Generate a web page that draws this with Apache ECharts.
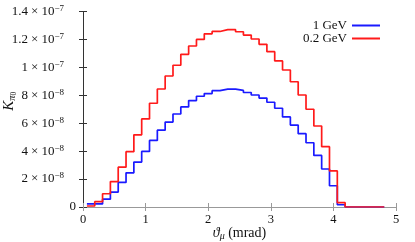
<!DOCTYPE html>
<html>
<head>
<meta charset="utf-8">
<script src="https://cdn.jsdelivr.net/npm/echarts@6/dist/echarts.min.js"></script>
<style>
html,body{margin:0;padding:0;background:#fff;}
#c{width:415px;height:242px;}
</style>
</head>
<body>
<div id="c"></div>
<script>
// Bin centres of theta_mu (mrad), bin width 0.125 mrad
const binCenters = [0.125,0.25,0.375,0.5,0.625,0.75,0.875,1.0,1.125,1.25,1.375,1.5,1.625,1.75,1.875,2.0,2.125,2.25,2.375,2.5,2.625,2.75,2.875,3.0,3.125,3.25,3.375,3.5,3.625,3.75,3.875,4.0,4.125,4.25,4.375,4.5,4.625,4.75];
// K_pi0 values in units of 1e-8
const k1GeV = [0.22,0.22,0.56,1.07,1.76,2.45,3.22,3.98,4.77,5.5,6.08,6.66,7.17,7.62,7.93,8.12,8.33,8.44,8.44,8.35,8.2,8.02,7.8,7.5,7.07,6.45,5.87,5.25,4.6,3.69,2.72,1.52,0.16,0,0,0,0,0];
const k02GeV = [0.07,0.38,0.95,1.82,2.85,3.96,5.17,6.31,7.43,8.45,9.38,10.15,10.93,11.53,12.0,12.4,12.57,12.7,12.7,12.55,12.31,12.03,11.65,11.12,10.46,9.81,8.97,8.02,7.0,5.8,4.32,2.58,0.31,0,0,0,0,0];
const seriesNames = ['1 GeV','0.2 GeV'];
const xTicks = [0,1,2,3,4,5];
const yUnitExp = -8;

const FONT = 'Liberation Serif';
const TXT = '#111';
const half = (binCenters[1]-binCenters[0])/2;
function stepData(vals){
  const d = binCenters.map((c,i)=>[c-half, vals[i]]);
  d.push([binCenters[binCenters.length-1]+half, vals[vals.length-1]]);
  return d;
}
function yFmt(v){
  if (Math.abs(v) < 1e-9) return '{b|0}';
  let e = Math.floor(Math.log10(v)+1e-9);
  let m = Math.round(v/Math.pow(10,e)*10)/10;
  let exp = e + yUnitExp;
  return '{b|' + m + '}{x|×}{b|10}{s|−' + Math.abs(exp) + '}';
}
const chart = echarts.init(document.getElementById('c'), null, {renderer:'canvas'});
chart.setOption({
  animation:false,
  backgroundColor:'#fff',
  grid:{left:83, right:19, top:11.5, bottom:35, outerBoundsMode:'none', containLabel:false},
  legend:{
    data:seriesNames, orient:'vertical', right:30, top:14, align:'right',
    icon:'rect', itemWidth:28, itemHeight:2, itemGap:0,
    textStyle:{fontFamily:FONT, fontSize:13, color:TXT, lineHeight:13, padding:[0,0,0,0]}
  },
  xAxis:[{
    type:'value', min:0, max:5, interval:1,
    axisLine:{show:true, lineStyle:{color:'#999', width:1}},
    axisTick:{show:true, inside:true, length:4, lineStyle:{color:'#999'}},
    splitLine:{show:false},
    axisLabel:{fontFamily:FONT, fontSize:12.5, color:TXT, margin:6,
      formatter:(v)=> xTicks.includes(v) ? String(v) : ''},
    name:'{t|ϑ}{s|μ}{n| (mrad)}', nameLocation:'middle', nameGap:19, nameMoveOverlap:false,
    nameTextStyle:{rich:{
      t:{fontFamily:FONT, fontSize:14, fontStyle:'italic', color:TXT, lineHeight:15},
      s:{fontFamily:FONT, fontSize:10, fontStyle:'italic', color:TXT, verticalAlign:'bottom', lineHeight:11},
      n:{fontFamily:FONT, fontSize:14, color:TXT, lineHeight:15}
    }}
  },{
    type:'value', min:0, max:5, interval:1, position:'top',
    axisLine:{show:true, lineStyle:{color:'#999', width:1}},
    axisTick:{show:true, inside:true, length:4, lineStyle:{color:'#999'}},
    axisLabel:{show:false}, splitLine:{show:false}
  }],
  yAxis:[{
    type:'value', min:0, max:14, interval:2,
    axisLine:{show:true, lineStyle:{color:'#333', width:1}},
    axisTick:{show:true, inside:true, length:4, lineStyle:{color:'#333'}},
    splitLine:{show:false},
    axisLabel:{margin:7, formatter:yFmt, rich:{
      b:{fontFamily:FONT, fontSize:13, color:TXT, lineHeight:15},
      x:{fontFamily:FONT, fontSize:13, color:TXT, lineHeight:15, padding:[0,3,0,3]},
      s:{fontFamily:FONT, fontSize:9, color:TXT, verticalAlign:'top', lineHeight:10, padding:[0,12,0,0]}
    }},
    name:'{k|K}{s|π}{z|0}', nameLocation:'middle', nameRotate:90, nameGap:65, nameMoveOverlap:false,
    nameTextStyle:{rich:{
      k:{fontFamily:FONT, fontSize:15, fontStyle:'italic', color:TXT, lineHeight:17, padding:[0,0,0,16]},
      s:{fontFamily:FONT, fontSize:10.5, fontStyle:'italic', color:TXT, verticalAlign:'bottom', lineHeight:12},
      z:{fontFamily:FONT, fontSize:7.5, color:TXT, verticalAlign:'bottom', lineHeight:9}
    }}
  },{
    type:'value', min:0, max:14, interval:2, position:'right',
    axisLine:{show:true, lineStyle:{color:'#333', width:1}},
    axisTick:{show:true, inside:true, length:4, lineStyle:{color:'#333'}},
    axisLabel:{show:false}, splitLine:{show:false}
  }],
  series:[
    {name:seriesNames[0], type:'line', step:'end', showSymbol:false, symbol:'none',
     data:stepData(k1GeV), color:'#1a1aff', lineStyle:{width:1.7, color:'#1a1aff'}},
    {name:seriesNames[1], type:'line', step:'end', showSymbol:false, symbol:'none',
     data:stepData(k02GeV), color:'#ff1a1a', lineStyle:{width:1.7, color:'#ff1a1a'}}
  ]
});
</script>
</body>
</html>
